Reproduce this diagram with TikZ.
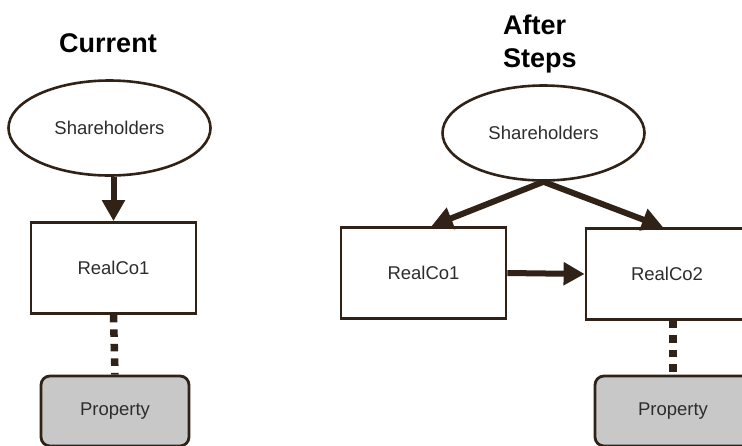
\documentclass[tikz,border=0pt]{standalone}
\usepackage{fontspec}
\setmainfont{Liberation Sans}
\usetikzlibrary{shapes.geometric, arrows.meta, positioning}
\definecolor{linebrown}{RGB}{48,34,22}
\definecolor{propgray}{RGB}{200,200,200}
\definecolor{labelgray}{RGB}{45,45,45}

\begin{document}
\begin{tikzpicture}[x=1pt, y=-1pt,
  owner/.style={draw=linebrown, line width=2.6pt, ellipse, minimum width=202pt, minimum height=95pt, font=\fontsize{18.5}{21}\selectfont, text=labelgray},
  company/.style={draw=linebrown, line width=2.8pt, minimum height=91pt, font=\fontsize{18.5}{21}\selectfont, text=labelgray},
  asset/.style={draw=linebrown, fill=propgray, line width=2.8pt, rounded corners=9pt, minimum height=70pt, font=\fontsize{18.5}{21}\selectfont, text=labelgray},
  owns/.style={draw=linebrown, line width=6pt, -{Triangle[length=21pt, width=22pt]}},
  holds/.style={draw=linebrown, line width=7.5pt, dash pattern=on 7.5pt off 7pt},
  heading/.style={font=\fontsize{27}{33}\selectfont\bfseries, inner sep=0pt}]
 \clip (0,0) rectangle (742,445);
 \fill[white] (0,0) rectangle (742,445);
 % current structure
 \node[heading] (curtitle) at (108,43){Current};
 \node[owner] (sh1) at (109.5,128){Shareholders};
 \node[company, minimum width=165pt] (rc1a) at (113.5,268){RealCo1};
 \node[asset, minimum width=148pt] (prop1) at (115,411){Property};
 \draw[owns] (sh1.south -| rc1a) -- (rc1a.north);
 \draw[holds] (rc1a.south) -- (prop1.north);
 % after the steps
 \node[heading, align=left, anchor=north west] (aftertitle) at (503,15){After\\Steps};
 \node[owner] (sh2) at (543.5,133){Shareholders};
 \node[company, minimum width=165pt] (rc1b) at (423.5,273){RealCo1};
 \node[company, minimum width=162pt] (rc2) at (667,274){RealCo2};
 \node[asset, minimum width=156pt] (prop2) at (673,411){Property};
 \draw[owns] (sh2.south) -- ([xshift=8pt]rc1b.north);
 \draw[owns] (sh2.south) -- ([xshift=-4pt]rc2.north);
 \draw[owns] (rc1b.east) -- (rc2.west);
 \draw[holds] (rc2.south -| prop2) -- (prop2.north);
\end{tikzpicture}
\end{document}
